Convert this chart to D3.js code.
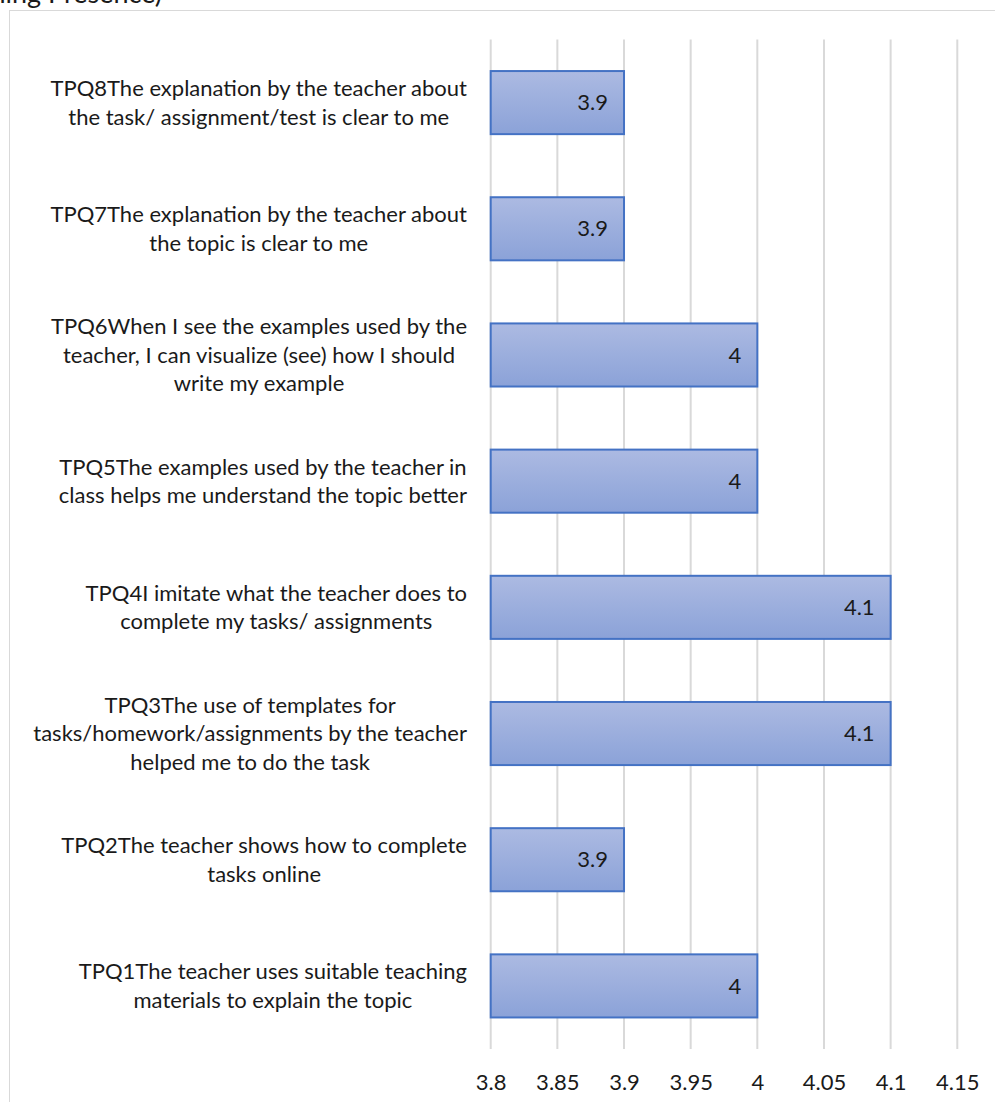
<!DOCTYPE html>
<html>
<head>
<meta charset="utf-8">
<script src="https://cdn.jsdelivr.net/npm/d3@7"></script>
<style>
  html, body { margin: 0; padding: 0; background: #ffffff; }
  svg { display: block; }
  text { font-family: Lato, "Open Sans", sans-serif; fill: #1a1a1a; }
</style>
</head>
<body>
<script>
// Survey items (bottom to top as listed TPQ1..TPQ8); "\n" marks wrapped lines
const categories = [
  "TPQ1The teacher uses suitable teaching\nmaterials to explain the topic",
  "TPQ2The teacher shows how to complete\ntasks online",
  "TPQ3The use of templates for\ntasks/homework/assignments by the teacher\nhelped me to do the task",
  "TPQ4I imitate what the teacher does to\ncomplete my tasks/ assignments",
  "TPQ5The examples used by the teacher in\nclass helps me understand the topic better",
  "TPQ6When I see the examples used by the\nteacher, I can visualize (see) how I should\nwrite my example",
  "TPQ7The explanation by the teacher about\nthe topic is clear to me",
  "TPQ8The explanation by the teacher about\nthe task/ assignment/test is clear to me"
];
const meanScores = [4, 3.9, 4.1, 4.1, 4, 4, 3.9, 3.9];
const tickValues = [3.8, 3.85, 3.9, 3.95, 4, 4.05, 4.1, 4.15];
const titleText = "(Teaching Presence)";

const W = 995, H = 1102;
const plot = { left: 490.7, right: 957.3, top: 39.5, bottom: 1049 };
const FONT = "22px";

const svg = d3.select("body").append("svg")
  .attr("width", W).attr("height", H);

// Bar gradient
const defs = svg.append("defs");
const grad = defs.append("linearGradient")
  .attr("id", "barFill").attr("x1", 0).attr("y1", 0).attr("x2", 0).attr("y2", 1);
grad.append("stop").attr("offset", "0%").attr("stop-color", "#acbae2");
grad.append("stop").attr("offset", "100%").attr("stop-color", "#8ba2d8");

// Title (runs above the visible area)
svg.append("text")
  .attr("x", 162).attr("y", 3)
  .attr("text-anchor", "end")
  .style("font-size", "27px")
  .text(titleText);

// Chart area frame
svg.append("rect")
  .attr("x", 9.5).attr("y", 10.5)
  .attr("width", W + 20).attr("height", H + 20)
  .attr("fill", "none")
  .attr("stroke", "#d9d9d9").attr("stroke-width", 1);

const x = d3.scaleLinear().domain([3.8, 4.15]).range([plot.left, plot.right]);

// Top of the chart = last category
const order = categories.map((c, i) => i).reverse();
const y = d3.scaleBand()
  .domain(order)
  .range([plot.top, plot.bottom])
  .paddingInner(0.5).paddingOuter(0.25);

// Vertical gridlines
svg.append("g")
  .selectAll("line").data(tickValues).join("line")
  .attr("x1", d => x(d)).attr("x2", d => x(d))
  .attr("y1", plot.top).attr("y2", plot.bottom)
  .attr("stroke", "#d9d9d9").attr("stroke-width", 2);

// Bars
svg.append("g")
  .selectAll("rect").data(order).join("rect")
  .attr("x", x(3.8))
  .attr("y", i => y(i))
  .attr("width", i => x(meanScores[i]) - x(3.8))
  .attr("height", y.bandwidth())
  .attr("fill", "url(#barFill)")
  .attr("stroke", "#4472c4").attr("stroke-width", 2);

// Value labels inside the bar ends
svg.append("g")
  .selectAll("text").data(order).join("text")
  .attr("x", i => x(meanScores[i]) - 16)
  .attr("y", i => y(i) + y.bandwidth() / 2)
  .attr("dy", "0.35em")
  .attr("text-anchor", "end")
  .style("font-size", FONT)
  .text(i => meanScores[i]);

// X axis tick labels
const xAxis = d3.axisBottom(x).tickValues(tickValues).tickSize(0).tickPadding(0)
  .tickFormat(d => String(+d.toFixed(2)));
const gx = svg.append("g")
  .attr("transform", `translate(0, ${plot.bottom + 25})`)
  .call(xAxis);
gx.select(".domain").remove();
gx.selectAll("text")
  .attr("dy", "0.71em")
  .style("font-size", FONT)
  .style("font-family", "Lato, 'Open Sans', sans-serif")
  .attr("fill", "#1a1a1a");

// Category labels: wrapped lines centred as a block, right-aligned to the plot
const labelRight = 467;
const lineH = 28.5;
const catG = svg.append("g");
order.forEach(i => {
  const lines = categories[i].split("\n");
  const g = catG.append("g");
  const cy = y(i) + y.bandwidth() / 2;
  const texts = g.selectAll("text").data(lines).join("text")
    .style("font-size", FONT)
    .attr("text-anchor", "middle")
    .attr("y", (d, k) => cy + (k - (lines.length - 1) / 2) * lineH)
    .attr("dy", "0.35em")
    .text(d => d);
  let maxW = 0;
  texts.each(function () { maxW = Math.max(maxW, this.getComputedTextLength()); });
  texts.attr("x", labelRight - maxW / 2);
});
</script>
</body>
</html>
